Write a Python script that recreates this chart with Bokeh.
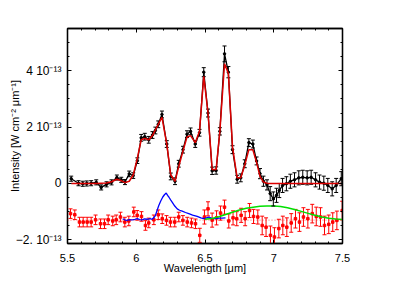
from bokeh.plotting import figure
from bokeh.models import LinearAxis, SingleIntervalTicker, Span, ColumnDataSource
from bokeh.embed import file_html
from bokeh.resources import INLINE

# Intensities in units of 1e-13 W cm^-2 um^-1
obs_wave = [5.527, 5.580, 5.611, 5.640, 5.672, 5.709, 5.745, 5.784, 5.820, 5.859, 5.891, 5.918,
            5.949, 5.978, 6.008, 6.036, 6.062, 6.091, 6.118, 6.139, 6.160, 6.187, 6.222, 6.251,
            6.282, 6.309, 6.340, 6.369, 6.395, 6.429, 6.460, 6.491, 6.522, 6.552, 6.581, 6.608,
            6.642, 6.670, 6.700, 6.734, 6.760, 6.789, 6.819, 6.848, 6.875, 6.900, 6.925, 6.951,
            6.974, 6.997, 7.020, 7.040, 7.064, 7.092, 7.121, 7.151, 7.182, 7.211, 7.243, 7.272,
            7.304, 7.333, 7.364, 7.393, 7.425, 7.454, 7.491]
obs_flux = [0.17, 0.01, -0.01, 0.00, 0.01, 0.04, -0.14, -0.03, 0.04, 0.21, 0.13, 0.05,
            0.34, 0.28, 0.81, 1.62, 1.66, 1.55, 1.72, 1.88, 2.10, 2.45, 1.40, 0.25,
            0.08, 0.70, 1.20, 1.75, 1.85, 1.40, 1.80, 3.95, 2.50, 0.45, 0.46, 1.85,
            4.60, 3.95, 1.20, 0.15, 0.20, 0.70, 1.45, 1.40, 0.80, 0.35, 0.08, -0.05,
            -0.36, -0.55, -0.42, -0.25, -0.07, -0.01, 0.08, 0.13, 0.20, 0.22, 0.20, 0.22,
            0.13, 0.05, 0.01, -0.07, -0.19, -0.07, 0.17]
obs_err = [0.09, 0.09, 0.09, 0.09, 0.09, 0.09, 0.09, 0.09, 0.09, 0.09, 0.09, 0.09,
           0.10, 0.10, 0.10, 0.12, 0.12, 0.12, 0.12, 0.12, 0.12, 0.12, 0.12, 0.12,
           0.12, 0.12, 0.12, 0.12, 0.12, 0.12, 0.12, 0.16, 0.14, 0.13, 0.13, 0.13,
           0.28, 0.20, 0.14, 0.14, 0.14, 0.14, 0.14, 0.14, 0.14, 0.18, 0.18, 0.18,
           0.25, 0.25, 0.25, 0.25, 0.25, 0.25, 0.25, 0.25, 0.25, 0.25, 0.25, 0.25,
           0.25, 0.25, 0.25, 0.25, 0.25, 0.25, 0.25]
fit_flux = [0.00, 0.00, 0.00, 0.00, 0.00, 0.00, 0.01, 0.02, 0.06, 0.15, 0.10, 0.03,
            0.08, 0.30, 0.90, 1.55, 1.60, 1.55, 1.70, 1.90, 2.10, 2.35, 1.40, 0.30,
            0.08, 0.60, 1.15, 1.65, 1.70, 1.45, 1.85, 3.80, 2.50, 0.50, 0.50, 1.85,
            4.25, 3.90, 1.30, 0.20, 0.20, 0.65, 1.20, 1.20, 0.75, 0.25, 0.05, 0.01,
            0.00, 0.00, 0.00, 0.00, 0.00, 0.00, 0.00, 0.00, 0.00, 0.00, 0.00, 0.00,
            0.00, 0.00, 0.00, 0.00, 0.00, 0.00, 0.00]

off_wave = [5.522, 5.553, 5.587, 5.614, 5.643, 5.672, 5.704, 5.740, 5.769, 5.796, 5.829,
            5.854, 5.885, 5.917, 5.946, 5.982, 6.007, 6.038, 6.067, 6.091, 6.128, 6.160,
            6.189, 6.220, 6.249, 6.280, 6.309, 6.339, 6.371, 6.402, 6.431, 6.462, 6.496,
            6.522, 6.552, 6.584, 6.613, 6.642, 6.673, 6.704, 6.731, 6.763, 6.792, 6.824,
            6.853, 6.884, 6.916, 6.944, 6.976, 7.005, 7.037, 7.066, 7.095, 7.127, 7.158,
            7.187, 7.216, 7.248, 7.280, 7.309, 7.340, 7.369, 7.400, 7.429, 7.459, 7.498]
off_flux = [-1.07, -1.11, -1.37, -1.37, -1.37, -1.37, -1.29, -1.43, -1.43, -1.29, -1.33,
            -1.29, -1.19, -1.37, -1.33, -1.01, -1.13, -1.17, -1.49, -1.40, -1.29, -1.11,
            -1.25, -1.31, -1.37, -1.37, -1.19, -1.31, -1.37, -1.40, -1.43, -1.84, -1.19,
            -0.90, -1.30, -1.22, -1.05, -0.84, -1.33, -1.22, -1.25, -1.13, -1.25, -0.96,
            -1.17, -1.19, -1.49, -1.55, -1.84, -1.90, -1.60, -1.49, -1.55, -1.40, -1.25,
            -1.37, -1.19, -1.25, -1.07, -1.17, -1.19, -1.49, -1.45, -1.37, -1.31, -0.96]
off_err = [0.17, 0.17, 0.17, 0.17, 0.17, 0.17, 0.17, 0.17, 0.17, 0.17, 0.17,
           0.17, 0.17, 0.17, 0.17, 0.17, 0.17, 0.17, 0.17, 0.17, 0.17, 0.17,
           0.17, 0.17, 0.17, 0.17, 0.17, 0.17, 0.17, 0.17, 0.17, 0.25, 0.25,
           0.25, 0.25, 0.25, 0.25, 0.25, 0.25, 0.25, 0.25, 0.25, 0.25, 0.25,
           0.25, 0.25, 0.33, 0.33, 0.33, 0.33, 0.33, 0.33, 0.33, 0.33, 0.33,
           0.33, 0.33, 0.33, 0.33, 0.33, 0.33, 0.33, 0.33, 0.33, 0.33, 0.33]
offset_level = -1.3

blue_wave = [5.902, 5.920, 5.934, 5.950, 5.971, 5.990, 6.007, 6.025, 6.043, 6.060, 6.080,
             6.100, 6.116, 6.130, 6.140, 6.152, 6.164, 6.178, 6.193, 6.205, 6.218, 6.228,
             6.237, 6.250, 6.261, 6.280, 6.298, 6.315, 6.334, 6.358, 6.382, 6.410, 6.443,
             6.470, 6.491, 6.510, 6.528, 6.550, 6.576, 6.600, 6.625, 6.649]
blue_flux = [-1.25, -1.30, -1.31, -1.28, -1.29, -1.27, -1.25, -1.28, -1.29, -1.26, -1.27,
             -1.25, -1.27, -1.20, -1.13, -0.95, -0.78, -0.62, -0.48, -0.40, -0.34, -0.42,
             -0.48, -0.58, -0.66, -0.80, -0.90, -0.95, -0.98, -1.03, -1.07, -1.12, -1.17,
             -1.22, -1.25, -1.22, -1.19, -1.24, -1.25, -1.23, -1.23, -1.22]

green_wave = [6.50, 6.55, 6.60, 6.65, 6.70, 6.75, 6.80, 6.85, 6.90, 6.95, 7.00,
              7.05, 7.10, 7.15, 7.20, 7.25, 7.30, 7.35, 7.40, 7.45, 7.50]
green_flux = [-1.27, -1.24, -1.18, -1.10, -1.02, -0.94, -0.88, -0.84, -0.81, -0.80, -0.80,
              -0.82, -0.86, -0.92, -0.99, -1.06, -1.13, -1.19, -1.23, -1.26, -1.28]

x_ticks = [5.5, 6.0, 6.5, 7.0, 7.5]
x_tick_labels = ["5.5", "6", "6.5", "7", "7.5"]
y_ticks = [-2, 0, 2, 4]
y_tick_labels = ["\u22122. 10\u207b\u00b9\u00b3", "0", "2 10\u207b\u00b9\u00b3", "4 10\u207b\u00b9\u00b3"]

FONT = "Liberation Sans"

p = figure(frame_width=275, frame_height=215, x_range=(5.5, 7.5), y_range=(-2.13, 5.5),
           output_backend="svg", toolbar_location=None,
           min_border_left=67, min_border_right=12, min_border_top=28, min_border_bottom=36)
p.grid.visible = False
p.outline_line_color = "black"
p.outline_line_width = 1.3
p.background_fill_color = "white"
p.border_fill_color = "white"

def style_axis(ax, interval, nminor, show_labels, size="11px"):
    ax.ticker = SingleIntervalTicker(interval=interval, num_minor_ticks=nminor)
    ax.major_tick_in = 4
    ax.major_tick_out = 0
    ax.minor_tick_in = 2
    ax.minor_tick_out = 0
    ax.axis_line_width = 1.3
    ax.major_tick_line_width = 1
    ax.minor_tick_line_width = 1
    ax.major_label_text_font = FONT
    ax.major_label_text_font_size = size
    ax.major_label_text_color = "black" if show_labels else None
    ax.axis_label_text_font = FONT
    ax.axis_label_text_font_size = "11px"
    ax.axis_label_text_font_style = "normal"
    ax.axis_label_text_color = "black"
    if not show_labels:
        ax.major_label_standoff = 0

xa = p.xaxis[0]
ya = p.yaxis[0]
style_axis(xa, 0.5, 5, True)
style_axis(ya, 2, 4, True, size="12px")
xa.axis_label = "Wavelength [\u03bcm]"
xa.major_label_overrides = dict(zip(x_ticks, x_tick_labels))
xa.major_label_standoff = 10
xa.axis_label_standoff = -3
ya.axis_label = "Intensity [W cm\u207b\u00b2 \u03bcm\u207b\u00b9]"
ya.major_label_overrides = dict(zip(y_ticks, y_tick_labels))
ya.major_label_standoff = 6
ya.axis_label_standoff = -8

top = LinearAxis()
right = LinearAxis()
style_axis(top, 0.5, 5, False)
style_axis(right, 2, 4, False)
p.add_layout(top, "above")
p.add_layout(right, "right")

# offset reference level
p.add_layout(Span(location=offset_level, dimension="width", line_color="red",
                  line_alpha=0.6, line_width=1, line_dash="1 2"))

# offset (red) spectrum with error bars
off_src = ColumnDataSource(dict(x=off_wave, y=off_flux,
                                lo=[v - e for v, e in zip(off_flux, off_err)],
                                hi=[v + e for v, e in zip(off_flux, off_err)]))
p.segment(x0="x", y0="lo", x1="x", y1="hi", source=off_src, line_color="red", line_width=1)
p.scatter(x="x", y="lo", source=off_src, marker="dash", size=4, line_color="red", line_width=1)
p.scatter(x="x", y="hi", source=off_src, marker="dash", size=4, line_color="red", line_width=1)
p.scatter(x="x", y="y", source=off_src, marker="square", size=2.5, color="red")

# blue and green curves
p.line(blue_wave, blue_flux, line_color="blue", line_width=1.3)
p.line(green_wave, green_flux, line_color="#00e000", line_width=1.5)

# observed (black) spectrum
obs_src = ColumnDataSource(dict(x=obs_wave, y=obs_flux, fit=fit_flux,
                                lo=[v - e for v, e in zip(obs_flux, obs_err)],
                                hi=[v + e for v, e in zip(obs_flux, obs_err)]))
p.line(x="x", y="y", source=obs_src, line_color="black", line_width=1.3)
p.segment(x0="x", y0="lo", x1="x", y1="hi", source=obs_src, line_color="black", line_width=1)
p.scatter(x="x", y="lo", source=obs_src, marker="dash", size=4, line_color="black", line_width=1)
p.scatter(x="x", y="hi", source=obs_src, marker="dash", size=4, line_color="black", line_width=1)
p.scatter(x="x", y="y", source=obs_src, marker="circle", size=2.5, color="black")

# red fit
p.line(x="x", y="fit", source=obs_src, line_color="#dd0000", line_width=1.5)

open("out.html", "w").write(file_html(p, INLINE))
